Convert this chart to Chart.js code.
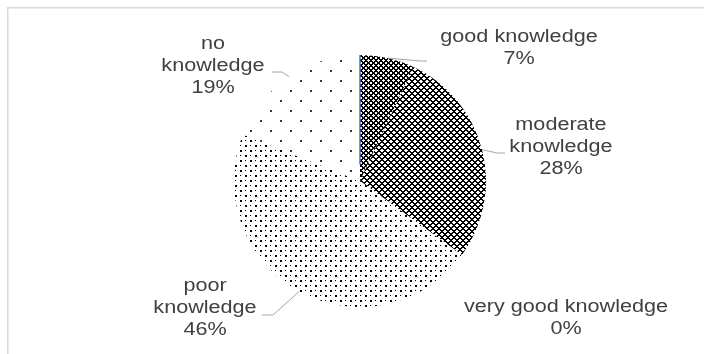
<!DOCTYPE html>
<html>
<head>
<meta charset="utf-8">
<script src="https://cdn.jsdelivr.net/npm/chart.js@4"></script>
<style>
  html, body { margin: 0; padding: 0; background: #ffffff; }
  #wrap { position: relative; width: 704px; height: 354px; }
  canvas { display: block; }
</style>
</head>
<body>
<div id="wrap"><canvas id="c" width="704" height="354"></canvas></div>
<script>
// ---- data ----
const categories = ['good knowledge', 'moderate knowledge', 'very good knowledge', 'poor knowledge', 'no knowledge'];
const values = [7, 28, 0, 46, 19];
const labelLines = [['good knowledge'], ['moderate', 'knowledge'], ['very good knowledge'], ['poor', 'knowledge'], ['no', 'knowledge']];

// ---- label layout (offsets from pie centre, px) ----
const labelCenters = [[159, -133], [201, -34], [206, 137], [-155, 127], [-147, -115]];
const leaderEnds = [[67, -120], [145, -28], null, [-98, 134], [-88, -109]];
const leaderElbows = [[60, -120], [137, -28], null, [-87, 134], [-78, -109]];

const ctxMain = document.getElementById('c').getContext('2d');
function pixelPattern(size, isInk, ink) {
  const c = document.createElement('canvas');
  c.width = size; c.height = size;
  const g = c.getContext('2d');
  g.fillStyle = '#ffffff'; g.fillRect(0, 0, size, size);
  g.fillStyle = ink;
  for (let y = 0; y < size; y++) for (let x = 0; x < size; x++) if (isInk(x, y)) g.fillRect(x, y, 1, 1);
  return ctxMain.createPattern(c, 'repeat');
}
// diagonal lattice (diamond checker)
const patGood = pixelPattern(10, (x, y) => ((x + y) % 5 < 2) || (((x - y) % 5 + 5) % 5 < 2), '#000000');
const patModerate = pixelPattern(6, (x, y) => ((x + y) % 6 < 2) || (((x - y) % 6 + 6) % 6 < 2), '#000000');
const patPoor = pixelPattern(10, (x, y) => ((x < 2 && y < 2) || (x >= 5 && x < 7 && y >= 5 && y < 7) || (x === 5 && y === 0) || (x === 0 && y === 5)), '#000000');
const patNo = pixelPattern(20, (x, y) => ((x < 2 && y < 2) || (x >= 10 && x < 12 && y >= 10 && y < 12)), '#1f3864');
const fills = [patGood, patModerate, '#7f7f7f', patPoor, patNo];

const total = values.reduce((a, b) => a + b, 0);

const decor = {
  id: 'decor',
  beforeDraw(chart) {
    const g = chart.ctx;
    g.save();
    g.fillStyle = '#ffffff';
    g.fillRect(0, 0, chart.width, chart.height);
    g.fillStyle = '#d9d9d9';
    g.fillRect(7, 7, chart.width - 7, 1.5);
    g.fillRect(7, 7, 1.5, chart.height - 7);
    g.restore();
  },
  afterDatasetsDraw(chart) {
    const g = chart.ctx;
    const meta = chart.getDatasetMeta(0);
    g.save();
    meta.data.forEach((arc, i) => {
      const p = arc.getProps(['x', 'y', 'startAngle', 'endAngle', 'outerRadius'], true);
      const cx = p.x, cy = p.y, r = p.outerRadius;
      if (i === values.length - 1) {
        g.strokeStyle = '#4472c4';
        g.lineWidth = 1.5;
        g.beginPath();
        g.moveTo(cx + Math.cos(p.endAngle) * r * 0.13, cy + Math.sin(p.endAngle) * r * 0.13);
        g.lineTo(cx + Math.cos(p.endAngle) * r, cy + Math.sin(p.endAngle) * r);
        g.stroke();
      }
      if (leaderEnds[i]) {
        const mid = (p.startAngle + p.endAngle) / 2;
        g.strokeStyle = '#a6a6a6';
        g.lineWidth = 1;
        g.beginPath();
        g.moveTo(cx + Math.cos(mid) * r, cy + Math.sin(mid) * r);
        g.lineTo(cx + leaderElbows[i][0], cy + leaderElbows[i][1]);
        g.lineTo(cx + leaderEnds[i][0], cy + leaderEnds[i][1]);
        g.stroke();
      }
      const lines = labelLines[i].concat([Math.round(values[i] / total * 100) + '%']);
      const lh = 22;
      const lx = cx + labelCenters[i][0];
      const ly0 = cy + labelCenters[i][1] - (lines.length - 1) * lh / 2;
      g.fillStyle = '#404040';
      g.font = '18px "Liberation Sans", Arial, sans-serif';
      g.textAlign = 'center';
      g.textBaseline = 'middle';
      lines.forEach((t, k) => {
        g.save();
        g.translate(lx, ly0 + k * lh);
        g.scale(1.2, 1);
        g.fillText(t, 0, 0);
        g.restore();
      });
    });
    g.restore();
  }
};

new Chart(document.getElementById('c'), {
  type: 'pie',
  data: {
    labels: categories,
    datasets: [{
      data: values,
      backgroundColor: fills,
      borderWidth: 0
    }]
  },
  options: {
    responsive: false,
    devicePixelRatio: 1,
    animation: false,
    events: [],
    layout: { padding: { left: 234, right: 218, top: 55, bottom: 47 } },
    plugins: { legend: { display: false }, tooltip: { enabled: false } }
  },
  plugins: [decor]
});
</script>
</body>
</html>
